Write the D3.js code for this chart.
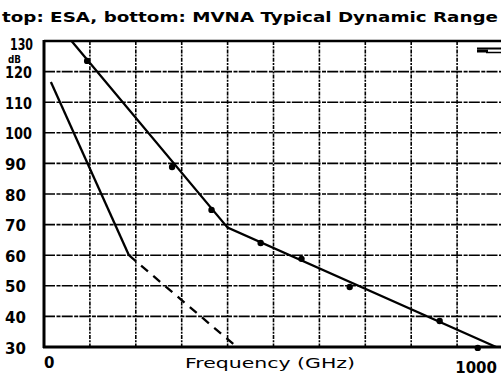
<!DOCTYPE html>
<html>
<head>
<meta charset="utf-8">
<script src="https://cdn.jsdelivr.net/npm/d3@7/dist/d3.min.js"></script>
<style>
  html, body { margin: 0; padding: 0; background: #fff; }
  svg { display: block; }
  text { font-family: "DejaVu Sans", sans-serif; fill: #000; }
</style>
</head>
<body>
<svg id="chart" width="501" height="377"></svg>
<script>
// Frequency axis (GHz) and dynamic range axis (dB)
const freqDomain = [0, 1000];
const dbDomain = [30, 130];
const freqGridTicks = [100, 200, 300, 400, 500, 600, 700, 800, 900];
const dbGridTicks = [40, 50, 60, 70, 80, 90, 100, 110, 120];
const dbTickLabels = [30, 40, 50, 60, 70, 80, 90, 100, 110, 120, 130];

// ESA (top curve): fitted line and measured points
const esaLineFreq = [60, 400, 985];
const esaLineDb = [130, 69, 30];
const esaPointFreq = [94, 279, 365, 472, 561, 666, 862, 945];
const esaPointDb = [123.5, 88.8, 74.8, 64, 58.8, 49.6, 38.5, 29.7];

// MVNA (bottom curve): solid measured part and dashed extrapolation
const mvnaSolidFreq = [15, 185];
const mvnaSolidDb = [116.6, 60];
const mvnaDashFreq = [185, 420];
const mvnaDashDb = [60, 30];

const svg = d3.select("#chart");
const plotLeft = 44, plotRight = 503, plotTop = 41, plotBottom = 347;

const x = d3.scaleLinear().domain(freqDomain).range([plotLeft, plotRight]);
const y = d3.scaleLinear().domain(dbDomain).range([plotBottom, plotTop]);

// Title
svg.append("text")
  .attr("x", 2).attr("y", 22)
  .attr("font-size", 14).attr("font-weight", "bold")
  .attr("textLength", 496).attr("lengthAdjust", "spacingAndGlyphs")
  .text("top: ESA, bottom: MVNA Typical Dynamic Range");

// Grid
const grid = svg.append("g");
grid.selectAll("line.h").data(dbGridTicks).join("line")
  .attr("class", "h")
  .attr("x1", plotLeft).attr("x2", plotRight)
  .attr("y1", d => y(d)).attr("y2", d => y(d))
  .attr("stroke", "#000").attr("stroke-width", 1.6)
  .attr("stroke-dasharray", "11,1.5,4,1.2");
grid.selectAll("line.v").data(freqGridTicks).join("line")
  .attr("class", "v")
  .attr("x1", d => x(d)).attr("x2", d => x(d))
  .attr("y1", plotTop).attr("y2", plotBottom)
  .attr("stroke", "#000").attr("stroke-width", 1.6)
  .attr("stroke-dasharray", "4,1.2,2,1.2");

// Frame: left, top and bottom borders
const frame = svg.append("g").attr("stroke", "#000").attr("fill", "none");
frame.append("line").attr("x1", x(0)).attr("x2", x(0)).attr("y1", y(130) - 1).attr("y2", y(30) + 1).attr("stroke-width", 3);
frame.append("line").attr("x1", x(0)).attr("x2", plotRight).attr("y1", y(130)).attr("y2", y(130)).attr("stroke-width", 2.6);
frame.append("line").attr("x1", x(0) - 1).attr("x2", plotRight).attr("y1", y(30)).attr("y2", y(30)).attr("stroke-width", 3);

// Small marker at top right
const mark = svg.append("g").attr("stroke", "#000");
mark.append("line").attr("x1", 477).attr("x2", 501).attr("y1", 48.5).attr("y2", 48.5).attr("stroke-width", 2);
mark.append("line").attr("x1", 477).attr("x2", 488).attr("y1", 51).attr("y2", 51).attr("stroke-width", 3);
mark.append("line").attr("x1", 486).attr("x2", 501).attr("y1", 52.5).attr("y2", 52.5).attr("stroke-width", 1.5);

// Y axis labels
const yAxis = d3.axisLeft(y).tickValues(dbTickLabels).tickSize(0).tickFormat(d3.format("d"));
const ya = svg.append("g").call(yAxis);
ya.select(".domain").remove();
ya.selectAll("text")
  .attr("x", d => d === 130 ? 10 : 5).attr("dy", null)
  .attr("text-anchor", "start")
  .attr("dominant-baseline", "central")
  .attr("font-family", "DejaVu Sans, sans-serif")
  .attr("font-size", 15).attr("font-weight", "bold")
  .attr("fill", "#000")
  .attr("transform", d => d === 130 ? "translate(0,3)" : "translate(0,1)");
ya.selectAll(".tick text").filter(d => d >= 100)
  .attr("textLength", d => d === 130 ? 23 : 27)
  .attr("lengthAdjust", "spacingAndGlyphs");
svg.append("text")
  .attr("x", 8).attr("y", 63)
  .attr("font-size", 10).attr("font-weight", "bold")
  .attr("textLength", 13).attr("lengthAdjust", "spacingAndGlyphs")
  .text("dB");

// X axis labels
svg.append("text").attr("x", x(0)).attr("y", 368)
  .attr("font-size", 15).attr("font-weight", "bold").text("0");
svg.append("text").attr("x", 497).attr("y", 373)
  .attr("text-anchor", "end")
  .attr("font-size", 15).attr("font-weight", "bold").text("1000");
svg.append("text").attr("x", 185).attr("y", 368)
  .attr("font-size", 14)
  .attr("textLength", 170).attr("lengthAdjust", "spacingAndGlyphs")
  .text("Frequency (GHz)");

// Curves
const line = d3.line().x(d => x(d[0])).y(d => y(d[1]));
const esaLine = d3.zip(esaLineFreq, esaLineDb);
const mvnaSolid = d3.zip(mvnaSolidFreq, mvnaSolidDb);
const mvnaDash = d3.zip(mvnaDashFreq, mvnaDashDb);

svg.append("path").datum(esaLine).attr("d", line)
  .attr("fill", "none").attr("stroke", "#000").attr("stroke-width", 2.3);
svg.append("path").datum(mvnaSolid).attr("d", line)
  .attr("fill", "none").attr("stroke", "#000").attr("stroke-width", 2.3);
svg.append("path").datum(mvnaDash).attr("d", line)
  .attr("fill", "none").attr("stroke", "#000").attr("stroke-width", 2.3)
  .attr("stroke-dasharray", "9,7");

svg.append("g").selectAll("circle").data(d3.zip(esaPointFreq, esaPointDb)).join("circle")
  .attr("cx", d => x(d[0])).attr("cy", d => y(d[1]))
  .attr("r", 3.2).attr("fill", "#000");
</script>
</body>
</html>
